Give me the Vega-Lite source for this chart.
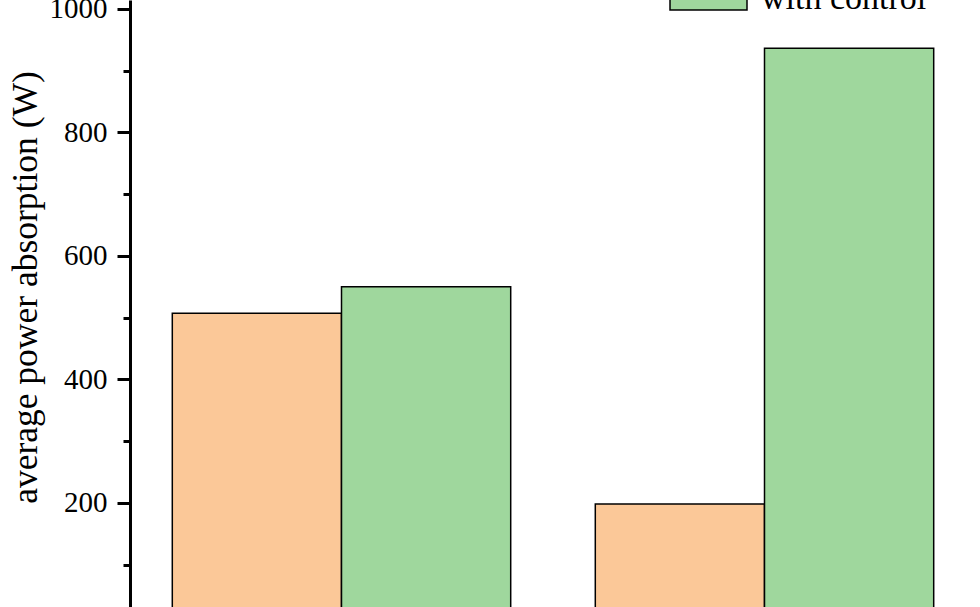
{
  "$schema": "https://vega.github.io/schema/vega-lite/v6.json",
  "width": 846,
  "height": 607,
  "autosize": {"type": "none"},
  "padding": {"left": 130, "top": 0, "right": 4, "bottom": 0},
  "background": "white",
  "config": {"view": {"stroke": null}, "font": "Liberation Serif"},
  "data": {
    "values": [
      {"case": "case 1", "control": "without control", "power": 507},
      {"case": "case 1", "control": "with control", "power": 550},
      {"case": "case 2", "control": "without control", "power": 198},
      {"case": "case 2", "control": "with control", "power": 936}
    ]
  },
  "layer": [
    {
      "mark": {"type": "bar", "clip": true, "stroke": "black", "strokeWidth": 1.5},
      "encoding": {
        "x": {"field": "case", "type": "nominal", "axis": null, "scale": {"paddingInner": 0.2, "paddingOuter": 0.1}},
        "xOffset": {"field": "control", "type": "nominal", "scale": {"domain": ["without control", "with control"], "paddingInner": 0, "paddingOuter": 0}},
        "y": {
          "field": "power",
          "type": "quantitative",
          "scale": {"domain": [31.3, 1014.3], "nice": false, "zero": false},
          "axis": {
            "values": [200, 400, 600, 800, 1000],
            "format": "d",
            "title": "average power absorption (W)",
            "orient": "left",
            "grid": false,
            "domainColor": "black",
            "domainWidth": 3,
            "tickColor": "black",
            "tickWidth": 3,
            "tickSize": 13,
            "labelFont": "Liberation Serif",
            "labelFontSize": 29,
            "labelColor": "black",
            "labelPadding": 10,
            "labelFlush": false,
            "labelOverlap": false,
            "labelBound": false,
            "titleFont": "Liberation Serif",
            "titleFontSize": 35.5,
            "titleFontWeight": "normal",
            "titleColor": "black",
            "titleX": -94,
            "titleY": 287,
            "titleAngle": 270,
            "titleAlign": "center",
            "titleBaseline": "alphabetic"
          }
        },
        "color": {
          "field": "control",
          "type": "nominal",
          "scale": {"domain": ["without control", "with control"], "range": ["#FBC898", "#9FD79D"]},
          "legend": {
            "orient": "none",
            "legendX": 539,
            "legendY": -118,
            "title": null,
            "padding": 0,
            "symbolType": "M-1,-0.3H1V0.3H-1Z",
            "symbolSize": 5929,
            "symbolStrokeColor": "black",
            "symbolStrokeWidth": 1.5,
            "symbolOpacity": 1,
            "labelFont": "Liberation Serif",
            "labelFontSize": 34,
            "labelColor": "black",
            "labelOffset": 13,
            "rowPadding": 20,
            "labelLimit": 400
          }
        }
      }
    },
    {
      "mark": {"type": "rule", "opacity": 0},
      "encoding": {
        "y": {
          "field": "power",
          "type": "quantitative",
          "axis": {
            "values": [100, 300, 500, 700, 900],
            "orient": "left",
            "labels": false,
            "domain": false,
            "grid": false,
            "title": null,
            "tickSize": 7,
            "tickWidth": 3,
            "tickColor": "black"
          }
        }
      }
    }
  ],
  "resolve": {"axis": {"y": "independent"}}
}
